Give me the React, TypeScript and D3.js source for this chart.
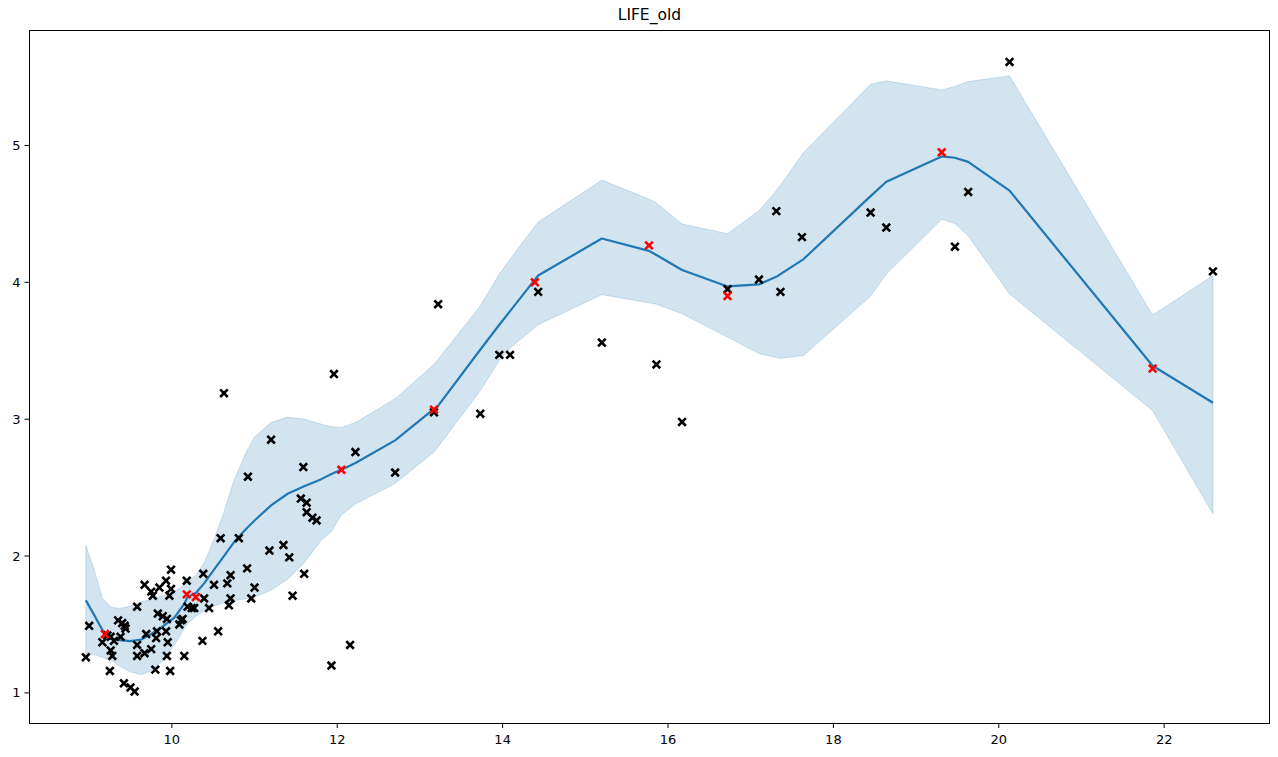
import React from "react";
import * as d3 from "d3";

// GP prediction evaluated at the sorted inputs
const gridX = [8.96, 9.06, 9.16, 9.26, 9.36, 9.5, 9.63, 9.75, 9.9, 10.03, 10.15, 10.19, 10.29, 10.39, 10.51, 10.63, 10.75, 10.9, 11.0, 11.2, 11.4, 11.6, 11.8, 11.93, 12.05, 12.22, 12.7, 13.17, 13.21, 13.72, 13.96, 14.09, 14.39, 14.43, 15.2, 15.77, 15.86, 16.17, 16.72, 17.1, 17.31, 17.36, 17.64, 18.45, 18.64, 19.31, 19.47, 19.63, 20.13, 21.86, 22.59];
const meanY = [1.676, 1.57, 1.46, 1.4, 1.385, 1.378, 1.39, 1.43, 1.49, 1.55, 1.65, 1.7, 1.73, 1.8, 1.9, 2.0, 2.1, 2.2, 2.26, 2.37, 2.455, 2.51, 2.56, 2.6, 2.63, 2.68, 2.845, 3.075, 3.09, 3.5, 3.69, 3.79, 4.02, 4.05, 4.32, 4.23, 4.2, 4.09, 3.97, 3.985, 4.04, 4.06, 4.17, 4.63, 4.735, 4.92, 4.91, 4.88, 4.67, 3.39, 3.12];
const lowerY = [1.287, 1.28, 1.26, 1.24, 1.2, 1.153, 1.134, 1.16, 1.24, 1.35, 1.47, 1.505, 1.56, 1.6, 1.635, 1.66, 1.675, 1.688, 1.7, 1.75, 1.83, 1.95, 2.11, 2.18, 2.3, 2.38, 2.53, 2.76, 2.79, 3.2, 3.43, 3.52, 3.67, 3.69, 3.91, 3.85, 3.84, 3.77, 3.6, 3.48, 3.45, 3.445, 3.465, 3.9, 4.06, 4.46, 4.43, 4.34, 3.915, 3.063, 2.309];
const upperY = [2.077, 1.9, 1.69, 1.63, 1.615, 1.635, 1.665, 1.685, 1.71, 1.74, 1.79, 1.81, 1.86, 1.95, 2.12, 2.32, 2.55, 2.76, 2.87, 2.975, 3.015, 3.0, 2.965, 2.945, 2.94, 2.975, 3.15, 3.4, 3.43, 3.82, 4.06, 4.17, 4.41, 4.44, 4.747, 4.608, 4.58, 4.426, 4.355, 4.523, 4.67, 4.71, 4.949, 5.447, 5.472, 5.406, 5.431, 5.467, 5.508, 3.761, 4.048];

// observed points
const obsX = [8.96, 9.0, 9.16, 9.22, 9.26, 9.28, 9.25, 9.35, 9.4, 9.44, 9.43, 9.38, 9.3, 9.26, 9.42, 9.5, 9.55, 9.58, 9.58, 9.58, 9.67, 9.69, 9.75, 9.8, 9.81, 9.83, 9.82, 9.89, 9.94, 9.93, 9.95, 9.94, 9.98, 9.67, 9.75, 9.77, 9.85, 9.93, 9.99, 9.97, 9.99, 10.18, 10.11, 10.09, 10.13, 10.19, 10.24, 10.27, 10.15, 10.38, 10.39, 10.37, 10.45, 10.51, 10.56, 10.59, 10.67, 10.71, 10.71, 10.69, 10.81, 10.91, 10.96, 11.0, 11.18, 11.35, 11.42, 11.46, 11.6, 11.93, 12.155, 10.63, 11.96, 11.2, 10.92, 11.59, 12.22, 12.7, 13.17, 13.73, 11.56, 11.63, 11.63, 11.7, 11.75, 13.22, 14.43, 13.96, 14.09, 15.2, 15.86, 16.17, 16.72, 17.1, 17.36, 17.31, 17.62, 20.13, 19.63, 19.47, 18.45, 18.64, 22.59];
const obsY = [1.26, 1.49, 1.37, 1.42, 1.41, 1.27, 1.16, 1.53, 1.51, 1.47, 1.49, 1.41, 1.38, 1.31, 1.07, 1.04, 1.01, 1.63, 1.35, 1.27, 1.29, 1.43, 1.32, 1.17, 1.4, 1.58, 1.45, 1.56, 1.54, 1.45, 1.37, 1.27, 1.16, 1.79, 1.74, 1.71, 1.77, 1.82, 1.9, 1.71, 1.76, 1.82, 1.53, 1.5, 1.54, 1.63, 1.62, 1.62, 1.27, 1.87, 1.69, 1.38, 1.62, 1.79, 1.45, 2.13, 1.8, 1.86, 1.69, 1.64, 2.13, 1.91, 1.69, 1.77, 2.04, 2.08, 1.99, 1.71, 1.87, 1.2, 1.35, 3.19, 3.33, 2.85, 2.58, 2.65, 2.76, 2.61, 3.05, 3.04, 2.42, 2.39, 2.32, 2.28, 2.26, 3.84, 3.93, 3.47, 3.47, 3.56, 3.4, 2.98, 3.95, 4.02, 3.93, 4.52, 4.33, 5.61, 4.66, 4.26, 4.51, 4.4, 4.08];

// highlighted (training) points
const redX = [9.19, 10.18, 10.29, 12.05, 13.17, 14.39, 15.77, 16.72, 19.31, 21.86];
const redY = [1.43, 1.72, 1.7, 2.63, 3.07, 4.0, 4.27, 3.9, 4.95, 3.37];

const xTicks = [10, 12, 14, 16, 18, 20, 22];
const yTicks = [1, 2, 3, 4, 5];

const W = 1278;
const H = 757;
const margin = { top: 30.5, right: 8.7, bottom: 34, left: 29.5 };
const FONT = "DejaVu Sans, sans-serif";

const App = () => {
  const allX = [...gridX, ...obsX, ...redX];
  const allY = [...lowerY, ...upperY, ...obsY, ...redY];
  const [x0, x1] = d3.extent(allX);
  const [y0, y1] = d3.extent(allY);
  const mx = (x1 - x0) * 0.05;
  const my = (y1 - y0) * 0.05;

  const x = d3.scaleLinear().domain([x0 - mx, x1 + mx]).range([margin.left, W - margin.right]);
  const y = d3.scaleLinear().domain([y0 - my, y1 + my]).range([H - margin.bottom, margin.top]);

  const band = d3
    .area()
    .x((d, i) => x(gridX[i]))
    .y0((d, i) => y(lowerY[i]))
    .y1((d, i) => y(upperY[i]));
  const line = d3
    .line()
    .x((d, i) => x(gridX[i]))
    .y((d) => y(d));

  // 'x' marker
  const s = 3.8;
  const cross = (cx, cy) => `M${cx - s},${cy - s}L${cx + s},${cy + s}M${cx - s},${cy + s}L${cx + s},${cy - s}`;

  const bottom = H - margin.bottom;
  const left = margin.left;

  return (
    <svg width={W} height={H} style={{ position: "absolute", left: 0, top: 0, background: "#fff" }} fontFamily={FONT}>
      <text x={(margin.left + W - margin.right) / 2} y={20} textAnchor="middle" fontSize={15.5} fill="#000">
        LIFE_old
      </text>

      <path d={band(gridX)} fill="#1f77b4" fillOpacity={0.2} stroke="#1f77b4" strokeOpacity={0.2} strokeWidth={1} />
      <path d={line(meanY)} fill="none" stroke="#1f77b4" strokeWidth={2.2} strokeLinejoin="round" />

      {obsX.map((v, i) => (
        <path key={"o" + i} d={cross(x(v), y(obsY[i]))} stroke="#000" strokeWidth={2.6} />
      ))}
      {redX.map((v, i) => (
        <path key={"r" + i} d={cross(x(v), y(redY[i]))} stroke="#ff0000" strokeWidth={2.6} />
      ))}

      <rect
        x={margin.left}
        y={margin.top}
        width={W - margin.left - margin.right}
        height={H - margin.top - margin.bottom}
        fill="none"
        stroke="#000"
        strokeWidth={1}
        shapeRendering="crispEdges"
      />

      {xTicks.map((t) => (
        <g key={"x" + t} transform={`translate(${x(t)},${bottom})`}>
          <line y2={5} stroke="#000" strokeWidth={1} />
          <text y={21} textAnchor="middle" fontSize={13} fill="#000">
            {t}
          </text>
        </g>
      ))}
      {yTicks.map((t) => (
        <g key={"y" + t} transform={`translate(${left},${y(t)})`}>
          <line x2={-5} stroke="#000" strokeWidth={1} />
          <text x={-9} dy="0.35em" textAnchor="end" fontSize={13} fill="#000">
            {t}
          </text>
        </g>
      ))}
    </svg>
  );
};

export default App;
